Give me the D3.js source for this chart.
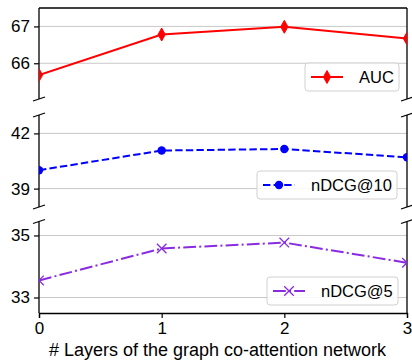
<!DOCTYPE html>
<html><head><meta charset="utf-8">
<script src="https://d3js.org/d3.v7.min.js"></script>
<style>
body{margin:0;background:#fff;}
svg{display:block;font-family:"Liberation Sans",Arial,sans-serif;}
</style></head>
<body><svg id="c" width="412" height="362"></svg>
<script>
const layers = [0, 1, 2, 3];
const auc = [65.68, 66.78, 66.99, 66.67];
const ndcg10 = [40.0, 41.07, 41.15, 40.7];
const ndcg5 = [33.55, 34.58, 34.77, 34.12];
const xTicks = [0, 1, 2, 3];
const aucTicks = [66, 67];
const ndcg10Ticks = [39, 42];
const ndcg5Ticks = [33, 35];
const xLabel = "# Layers of the graph co-attention network";

const svg = d3.select("#c");
const x = d3.scaleLinear().domain([0, 3]).range([39, 407]);

const panels = [
  {name:"AUC", data:auc, ticks:aucTicks, domain:[65.03, 67.5], range:[99, 8], color:"#ff0000",
   dash:null, marker:"diamond", legendX:305, legendW:94, top:true, bottom:false},
  {name:"nDCG@10", data:ndcg10, ticks:ndcg10Ticks, domain:[38, 43], range:[207, 115], color:"#0000ff",
   dash:"7.4,3.2", marker:"circle", legendX:257, legendW:140, top:false, bottom:false},
  {name:"nDCG@5", data:ndcg5, ticks:ndcg5Ticks, domain:[32.5, 35.45], range:[313, 221.5], color:"#8a2be2",
   dash:"12.8,3.2,2,3.2", marker:"x", legendX:267, legendW:131, top:false, bottom:true}
];

function drawMarker(g, type, cx, cy, color){
  if(type==="diamond"){
    g.append("path").attr("d", `M${cx},${cy-6.5}L${cx+3.6},${cy}L${cx},${cy+6.5}L${cx-3.6},${cy}Z`)
      .attr("fill", color).attr("stroke", color).attr("stroke-width", 1);
  } else if(type==="circle"){
    g.append("circle").attr("cx", cx).attr("cy", cy).attr("r", 4.2).attr("fill", color);
  } else {
    const s = 4.8;
    g.append("path").attr("d", `M${cx-s},${cy-s}L${cx+s},${cy+s}M${cx-s},${cy+s}L${cx+s},${cy-s}`)
      .attr("stroke", color).attr("stroke-width", 1.3).attr("fill","none");
  }
}

panels.forEach((p, i) => {
  const y = d3.scaleLinear().domain(p.domain).range(p.range);
  const [yb, yt] = p.range;
  const g = svg.append("g");
  const clipId = "clip" + i;
  svg.append("defs").append("clipPath").attr("id", clipId)
    .append("rect").attr("x", x.range()[0]).attr("y", yt).attr("width", x.range()[1]-x.range()[0]).attr("height", yb-yt);

  // grid
  g.selectAll(".grid").data(p.ticks).enter().append("line")
    .attr("x1", x.range()[0]).attr("x2", x.range()[1])
    .attr("y1", d => y(d)).attr("y2", d => y(d))
    .attr("stroke", "#c8c8c8").attr("stroke-width", 1);

  // y axis
  const ya = g.append("g").attr("transform", `translate(${x.range()[0]},0)`)
    .call(d3.axisLeft(y).tickValues(p.ticks).tickSize(5).tickPadding(4).tickFormat(d3.format("d")));
  ya.select(".domain").remove();
  ya.selectAll("text").attr("font-size", 17).attr("fill", "#000").attr("font-family", "Liberation Sans, Arial, sans-serif");
  ya.selectAll("line").attr("stroke", "#000").attr("stroke-width", 1.2);

  // spines
  g.append("line").attr("x1", x.range()[0]).attr("x2", x.range()[0]).attr("y1", yt).attr("y2", yb).attr("stroke", "#000").attr("stroke-width", 1.3);
  g.append("line").attr("x1", x.range()[1]).attr("x2", x.range()[1]).attr("y1", yt).attr("y2", yb).attr("stroke", "#000").attr("stroke-width", 1.3);
  if(p.top) g.append("line").attr("x1", x.range()[0]).attr("x2", x.range()[1]).attr("y1", yt).attr("y2", yt).attr("stroke", "#000").attr("stroke-width", 1.3);
  if(p.bottom){
    const xa = g.append("g").attr("transform", `translate(0,${yb})`)
      .call(d3.axisBottom(x).tickValues(xTicks).tickSize(5).tickPadding(4).tickFormat(d3.format("d")));
    xa.select(".domain").attr("stroke", "#000").attr("stroke-width", 1.3);
    xa.selectAll("line").attr("stroke", "#000").attr("stroke-width", 1.2);
    xa.selectAll("text").attr("font-size", 17).attr("fill", "#000").attr("font-family", "Liberation Sans, Arial, sans-serif");
  }
  // break marks
  const marks = [];
  if(!p.top) marks.push(yt);
  if(!p.bottom) marks.push(yb);
  marks.forEach(my => {
    [x.range()[0], x.range()[1]].forEach(mx => {
      g.append("line").attr("x1", mx-6).attr("y1", my+2).attr("x2", mx+6).attr("y2", my-2)
        .attr("stroke", "#000").attr("stroke-width", 1.3);
    });
  });

  // data
  const dg = g.append("g").attr("clip-path", `url(#${clipId})`);
  const line = d3.line().x((d, j) => x(layers[j])).y(d => y(d));
  dg.append("path").datum(p.data).attr("d", line).attr("fill", "none")
    .attr("stroke", p.color).attr("stroke-width", 2).attr("stroke-dasharray", p.dash);
  p.data.forEach((v, j) => drawMarker(dg, p.marker, x(layers[j]), y(v), p.color));

  // legend
  const lh = 28, lb = yb - 8, ly = lb - lh;
  const lg = g.append("g");
  lg.append("rect").attr("x", p.legendX).attr("y", ly).attr("width", p.legendW).attr("height", lh)
    .attr("rx", 3).attr("fill", "rgba(255,255,255,0.85)").attr("stroke", "#d0d0d0").attr("stroke-width", 1);
  const cy = ly + lh/2;
  lg.append("line").attr("x1", p.legendX+6).attr("x2", p.legendX+38).attr("y1", cy).attr("y2", cy)
    .attr("stroke", p.color).attr("stroke-width", 2).attr("stroke-dasharray", p.dash);
  drawMarker(lg, p.marker, p.legendX+22, cy, p.color);
  lg.append("text").attr("x", p.legendX+54).attr("y", cy).attr("dy", "0.36em")
    .attr("font-size", 16.5).attr("fill", "#000").text(p.name);
});

svg.append("text").attr("x", 217.5).attr("y", 356)
  .attr("text-anchor", "middle").attr("font-size", 18).attr("fill", "#000").text(xLabel);
</script></body></html>
